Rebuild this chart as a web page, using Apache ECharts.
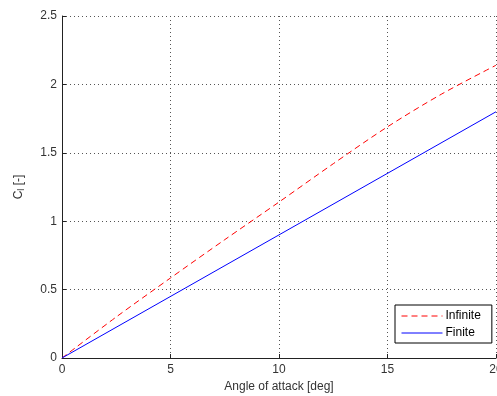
<!DOCTYPE html>
<html>
<head>
<meta charset="utf-8">
<script src="https://cdn.jsdelivr.net/npm/echarts@6/dist/echarts.min.js"></script>
<style>
  html, body { margin: 0; padding: 0; background: #fff; }
  #chart { width: 497px; height: 396px; }
</style>
</head>
<body>
<div id="chart"></div>
<script>
// angle of attack [deg]
const alphaInf = [0, 2.5, 5, 7.5, 10, 12.5, 15, 17.5, 20];
const clInfinite = [0, 0.30, 0.585, 0.865, 1.14, 1.42, 1.69, 1.93, 2.14];
const alphaFin = [0, 20];
const clFinite = [0, 1.8];

const chart = echarts.init(document.getElementById('chart'));

const option = {
    animation: false,
    grid: {
        left: 62,
        right: 1,
        top: 16,
        bottom: 38,
        outerBoundsMode: 'none',
        containLabel: false,
    },
    legend: {
        orient: 'vertical',
        align: 'left',
        left: 395,
        top: 305,
        padding: [5, 11, 4, 6],
        itemGap: 5,
        itemWidth: 41,
        itemHeight: 10,
        borderColor: '#000',
        borderWidth: 1,
        backgroundColor: '#fff',
        itemStyle: { opacity: 0 },
        lineStyle: { width: 1 },
        textStyle: {
            fontFamily: 'Liberation Sans',
            fontSize: 12,
            color: '#000',
            padding: [0, 0, 0, -2],
        },
        data: ['Infinite', 'Finite'],
    },
    xAxis: {
        type: 'value',
        min: 0,
        max: 20,
        interval: 5,
        name: 'Angle of attack [deg]',
        nameLocation: 'middle',
        nameGap: 20,
        nameTextStyle: {
            fontFamily: 'Liberation Sans',
            fontSize: 12,
            color: '#333',
        },
        axisLine: { lineStyle: { color: '#222', width: 1 } },
        axisTick: { inside: true, length: 4, lineStyle: { color: '#222' } },
        axisLabel: {
            fontFamily: 'Liberation Sans',
            fontSize: 12,
            color: '#333',
            margin: 6,
        },
        splitLine: {
            show: true,
            lineStyle: { color: '#555', type: [1, 3], width: 1 },
        },
    },
    yAxis: {
        type: 'value',
        min: 0,
        max: 2.5,
        interval: 0.5,
        name: '{c|C}{s|l} {c|[-]}',
        nameLocation: 'middle',
        nameGap: 36,
        nameRotate: 90,
        nameTextStyle: {
            rich: {
                c: { fontFamily: 'Liberation Sans', fontSize: 12, color: '#333' },
                s: { fontFamily: 'Liberation Sans', fontSize: 9, color: '#333', verticalAlign: 'bottom', padding: [6, 0, 0, 0] },
            },
        },
        axisLine: { show: true, lineStyle: { color: '#222', width: 1 } },
        axisTick: { show: true, inside: true, length: 4, lineStyle: { color: '#222' } },
        axisLabel: {
            fontFamily: 'Liberation Sans',
            fontSize: 12,
            color: '#333',
            margin: 5,
        },
        splitLine: {
            show: true,
            lineStyle: { color: '#555', type: [1, 3], width: 1 },
        },
    },
    series: [
        {
            name: 'Infinite',
            type: 'line',
            data: alphaInf.map((a, i) => [a, clInfinite[i]]),
            symbol: 'none',
            smooth: 0.3,
            lineStyle: { color: '#ff0000', width: 1, type: [6, 4] },
            itemStyle: { color: '#ff0000' },
        },
        {
            name: 'Finite',
            type: 'line',
            data: alphaFin.map((a, i) => [a, clFinite[i]]),
            symbol: 'none',
            lineStyle: { color: '#0000ff', width: 1, type: 'solid' },
            itemStyle: { color: '#0000ff' },
        },
    ],
};

chart.setOption(option);
</script>
</body>
</html>
